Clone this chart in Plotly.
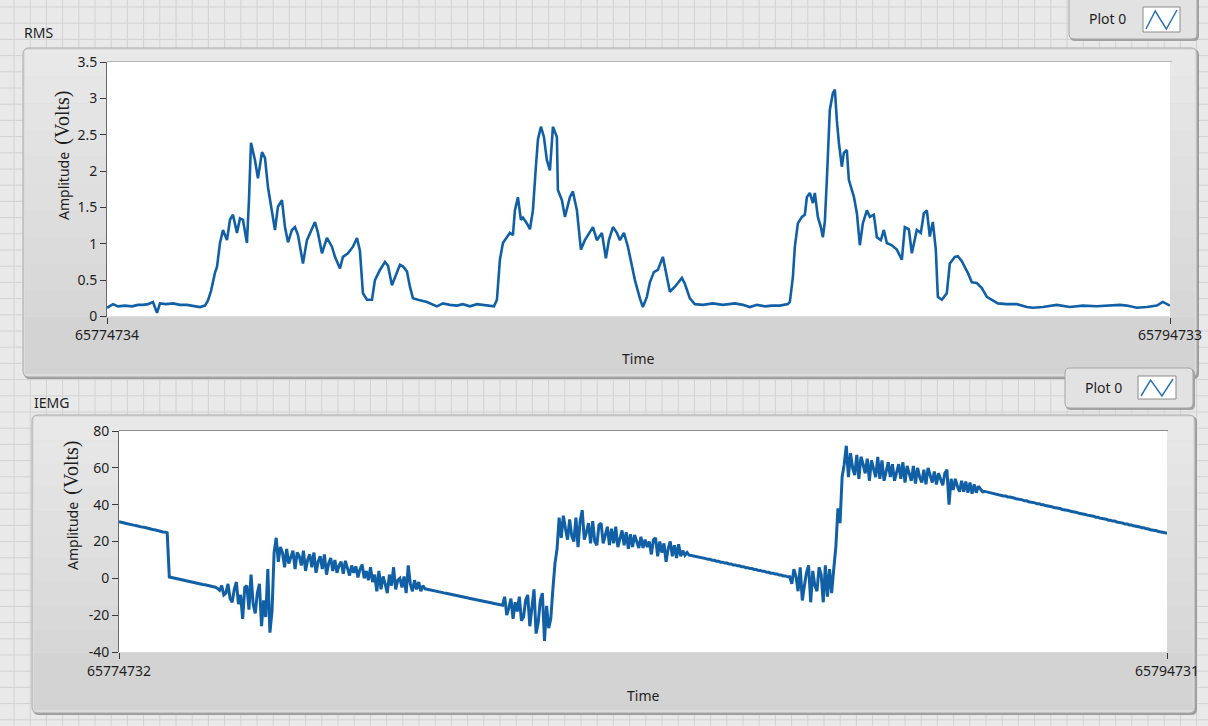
import plotly.graph_objects as go

W, H = 1208, 726

# ---------------- data ----------------
rms_start = 65774734
rms_end = 65794733
rms_offsets = [
    0, 56, 113, 207, 339, 470, 583, 677, 771, 865,
    941, 997, 1110, 1241, 1373, 1505, 1636, 1749, 1843, 1900,
    1956, 1994, 2031, 2069, 2088, 2126, 2182, 2257, 2314, 2370,
    2445, 2502, 2558, 2633, 2671, 2709, 2784, 2840, 2916, 2972,
    3028, 3104, 3160, 3216, 3292, 3348, 3405, 3480, 3536, 3593,
    3687, 3762, 3818, 3913, 3969, 4044, 4138, 4232, 4289, 4383,
    4439, 4533, 4627, 4703, 4759, 4815, 4891, 4985, 5041, 5135,
    5229, 5286, 5361, 5417, 5511, 5568, 5643, 5699, 5756, 5850,
    6019, 6207, 6320, 6452, 6584, 6696, 6828, 6960, 7073, 7204,
    7280, 7336, 7392, 7449, 7524, 7580, 7637, 7674, 7731, 7787,
    7825, 7900, 7957, 8013, 8069, 8107, 8164, 8220, 8276, 8333,
    8370, 8389, 8464, 8483, 8559, 8615, 8709, 8765, 8841, 8916,
    8991, 9048, 9142, 9217, 9311, 9386, 9443, 9518, 9593, 9650,
    9725, 9800, 9875, 9932, 10026, 10082, 10157, 10214, 10289, 10364,
    10458, 10534, 10590, 10684, 10816, 10872, 10966, 11060, 11211, 11399,
    11587, 11813, 11963, 12095, 12227, 12377, 12509, 12659, 12810, 12847,
    12904, 12941, 12998, 13073, 13129, 13167, 13223, 13280, 13317, 13374,
    13430, 13468, 13505, 13543, 13599, 13656, 13694, 13731, 13769, 13825,
    13863, 13919, 13957, 14013, 14051, 14108, 14164, 14220, 14296, 14352,
    14427, 14484, 14559, 14615, 14672, 14766, 14860, 14954, 15010, 15086,
    15142, 15236, 15311, 15368, 15424, 15480, 15537, 15593, 15631, 15706,
    15800, 15857, 15951, 16007, 16083, 16139, 16196, 16271, 16365, 16459,
    16553, 16647, 16760, 16929, 17117, 17305, 17418, 17606, 17870, 18114,
    18359, 18622, 18866, 19055, 19186, 19374, 19562, 19751, 19864, 19999,
]
rms_values = [
    0.12, 0.15, 0.17, 0.14, 0.15, 0.14, 0.16, 0.16, 0.17, 0.20,
    0.05, 0.18, 0.17, 0.18, 0.16, 0.16, 0.14, 0.13, 0.15, 0.22,
    0.35, 0.50, 0.60, 0.68, 0.82, 1.01, 1.19, 1.05, 1.33, 1.40,
    1.15, 1.35, 1.33, 1.01, 1.60, 2.39, 2.15, 1.90, 2.26, 2.18,
    1.78, 1.46, 1.19, 1.51, 1.60, 1.23, 1.02, 1.19, 1.23, 1.12,
    0.73, 1.05, 1.15, 1.30, 1.15, 0.87, 1.08, 0.96, 0.82, 0.66,
    0.82, 0.87, 0.96, 1.08, 0.90, 0.32, 0.23, 0.23, 0.50, 0.64,
    0.75, 0.70, 0.43, 0.54, 0.71, 0.69, 0.62, 0.41, 0.25, 0.23,
    0.20, 0.14, 0.18, 0.16, 0.15, 0.17, 0.14, 0.17, 0.16, 0.15,
    0.14, 0.23, 0.78, 1.01, 1.09, 1.15, 1.12, 1.46, 1.64, 1.33,
    1.36, 1.28, 1.20, 1.46, 2.06, 2.43, 2.61, 2.47, 2.15, 2.01,
    2.40, 2.61, 2.47, 1.74, 1.60, 1.37, 1.64, 1.72, 1.46, 0.92,
    1.05, 1.12, 1.23, 1.05, 1.15, 0.80, 1.05, 1.23, 1.15, 1.05,
    1.15, 0.96, 0.68, 0.50, 0.25, 0.13, 0.27, 0.47, 0.61, 0.64,
    0.82, 0.54, 0.34, 0.41, 0.53, 0.45, 0.25, 0.17, 0.16, 0.18,
    0.16, 0.18, 0.16, 0.13, 0.16, 0.14, 0.15, 0.15, 0.17, 0.20,
    0.54, 0.96, 1.28, 1.37, 1.40, 1.64, 1.70, 1.56, 1.70, 1.37,
    1.23, 1.09, 1.30, 1.88, 2.84, 3.07, 3.12, 2.70, 2.39, 2.06,
    2.25, 2.29, 1.88, 1.74, 1.65, 1.42, 0.98, 1.28, 1.46, 1.37,
    1.40, 1.09, 1.05, 1.19, 1.01, 0.98, 0.92, 0.78, 1.23, 1.20,
    0.87, 1.19, 1.15, 1.42, 1.46, 1.10, 1.30, 0.92, 0.27, 0.23,
    0.32, 0.73, 0.82, 0.83, 0.76, 0.68, 0.60, 0.47, 0.46, 0.39,
    0.27, 0.23, 0.18, 0.17, 0.17, 0.13, 0.12, 0.13, 0.16, 0.13,
    0.15, 0.14, 0.15, 0.16, 0.15, 0.12, 0.13, 0.15, 0.20, 0.15,
]

iemg_start = 65774732
iemg_end = 65794731
iemg_values = [
    # ramp before first contraction
    30.7, 30.3, 30.2, 29.9, 29.6, 29.5, 29.1, 28.9, 28.7, 28.3,
    28.2, 27.8, 27.7, 27.3, 27.1, 26.9, 26.5, 26.4, 26.0, 25.8,
    25.6, 25.2, 25.1, 24.7,
    0.7, 0.4, 0.3, -0.1, -0.2, -0.6, -0.8, -1.0, -1.3, -1.6,
    -1.7, -2.1, -2.3, -2.5, -2.8, -3.0, -3.3, -3.5, -3.7, -4.0,
    -4.3, -4.5, -4.8,
    # first burst
    -5.5, -6.5, -4, -9, -8, -3, -11, -13, -6, -2,
    -14, -9, -22, -5, -4, -17, 2, -14, -19, -8,
    -3, -26, -12, -21, 5, -29.5, -18, 14,
    22, 9, 17, 14, 6, 16, 8, 11, 15, 5,
    14, 12, 7, 15, 4, 10, 13, 6, 14, 3,
    9, 12, 5, 13, 2, 8, 11, 4, 10, 3,
    7, 9, 2.5, 9.5, 6, 1.5, 7, 3, 6.5, 0.5,
    5, 7.5, 0, 4, -1, 6, -2, 2, -7, 4,
    -6, 1, -3, -8, 2, -4, 6, -6, -1, 0,
    -5, 1, -8, 7, -3, -7, -1, -6, -2, -7,
    -4, -5.7,
    -5.9, -6.2, -6.4, -6.7, -6.9, -7.1, -7.4, -7.6, -7.9, -8.1,
    -8.3, -8.6, -8.8, -9.1, -9.3, -9.6, -9.8, -10.0, -10.3, -10.5,
    -10.8, -11.0, -11.2, -11.5, -11.7, -12.0, -12.2, -12.5, -12.7, -12.9,
    -13.2, -13.4, -13.7, -13.9, -14.1, -14.4, -14.6,
    # second burst
    -10, -20, -16, -11, -22, -13, -18, -10, -23, -21,
    -12, -9, -26, -14, -6, -30, -24, -12, -8, -34,
    -15, -27, -22, -6, 8, 16,
    33, 22, 34, 27, 21, 32, 23, 20, 33, 17,
    31, 37, 21, 25, 30, 19, 31, 20, 18, 29,
    30, 19, 24, 28, 18, 27, 19, 28, 17, 22,
    26, 18, 25, 16, 24, 17, 23.5, 20, 16.5, 22.5,
    16.5, 21, 17, 20, 13, 21, 22, 12, 20, 14,
    19, 9, 16, 20, 12, 18, 11, 18.5, 12, 15,
    12.5, 14, 12.6,
    12.4, 12.2, 11.8, 11.7, 11.3, 11.2, 10.8, 10.7, 10.3, 10.3,
    9.8, 9.8, 9.3, 9.3, 8.8, 8.8, 8.3, 8.3, 7.8, 7.8,
    7.3, 7.3, 6.8, 6.8, 6.3, 6.3, 5.8, 5.8, 5.3, 5.3,
    4.8, 4.8, 4.3, 4.3, 3.8, 3.8, 3.3, 3.3, 2.8, 2.8,
    2.3, 2.3, 1.8, 1.8, 1.3, 1.3, 0.8, 0.8,
    # third burst
    -3, 5, 1, -7, 6, -12, -4, 3, 7, -13,
    4, -4, -7, 6, 2, -13, 7, -10, 5, -8,
    5, 17, 38, 30, 55, 62, 72,
    55, 68, 60, 56, 67, 54, 66, 62, 57, 65,
    53, 64, 59, 55, 66, 54, 64, 53, 58, 63,
    55, 62, 53, 58, 62, 54, 63, 52, 61, 57,
    53, 61, 51.5, 60, 55, 52, 59, 51, 60, 56,
    52, 58, 51, 57, 54, 50.5, 57, 59, 40, 54,
    48, 54, 50, 47, 53, 47, 52.5, 46.5, 52, 46,
    51, 46.5, 50, 48.5, 47,
    47.2, 46.9, 46.8, 46.3, 46.3, 45.8, 45.7, 45.3, 45.2, 44.7,
    44.7, 44.2, 44.2, 43.7, 43.6, 43.2, 43.1, 42.6, 42.6, 42.1,
    42.1, 41.6, 41.5, 41.1, 41.0, 40.5, 40.5, 40.0, 40.0, 39.5,
    39.4, 39.0, 38.9, 38.5, 38.4, 37.9, 37.9, 37.4, 37.3, 36.9,
    36.8, 36.4, 36.3, 35.8, 35.8, 35.3, 35.2, 34.8, 34.7, 34.3,
    34.2, 33.7, 33.7, 33.2, 33.2, 32.7, 32.6, 32.2, 32.1, 31.6,
    31.6, 31.1, 31.1, 30.6, 30.5, 30.1, 30.0, 29.5, 29.5, 29.0,
    29.0, 28.5, 28.4, 28.0, 27.9, 27.4, 27.4, 26.9, 26.9, 26.4,
    26.3, 25.9, 25.8, 25.4, 25.3, 24.8, 24.8, 24.4,
]

rms_yticks = [0, 0.5, 1, 1.5, 2, 2.5, 3, 3.5]
rms_ytick_text = ["0", "0.5", "1", "1.5", "2", "2.5", "3", "3.5"]
iemg_yticks = [-40, -20, 0, 20, 40, 60, 80]
iemg_ytick_text = ["-40", "-20", "0", "20", "40", "60", "80"]
rms_xtick_text = ["65774734", "65794733"]
iemg_xtick_text = ["65774732", "65794731"]
panel_titles = ["RMS", "IEMG"]
legend_label = "Plot 0"
x_title = "Time"

# ---------------- styling ----------------
LINE = "#1160a6"
TXT = "#1f1f1f"
SANS = "Noto Sans, Open Sans, sans-serif"


def px(x):
    return x / W


def py(y):
    return 1 - y / H


def rrect_path(x0, y0, x1, y1, r):
    return (f"M {px(x0 + r)},{py(y0)} L {px(x1 - r)},{py(y0)} "
            f"Q {px(x1)},{py(y0)} {px(x1)},{py(y0 + r)} L {px(x1)},{py(y1 - r)} "
            f"Q {px(x1)},{py(y1)} {px(x1 - r)},{py(y1)} L {px(x0 + r)},{py(y1)} "
            f"Q {px(x0)},{py(y1)} {px(x0)},{py(y1 - r)} L {px(x0)},{py(y0 + r)} "
            f"Q {px(x0)},{py(y0)} {px(x0 + r)},{py(y0)} Z")


def mix(c0, c1, t):
    a = [int(c0[i:i + 2], 16) for i in (1, 3, 5)]
    b = [int(c1[i:i + 2], 16) for i in (1, 3, 5)]
    return "#" + "".join(f"{round(a[k] + (b[k] - a[k]) * t):02x}" for k in range(3))


shapes = []

# background grid of the front panel
grid = []
gx = 14.0
while gx < W:
    grid.append(f"M {px(gx)},{py(0)} L {px(gx)},{py(H)}")
    gx += 16.2
gy = 7.0
while gy < H:
    grid.append(f"M {px(0)},{py(gy)} L {px(W)},{py(gy)}")
    gy += 16.2
shapes.append(dict(type="path", xref="paper", yref="paper", path=" ".join(grid),
                   line=dict(color="#d2d2d2", width=1), layer="below"))


def add_panel(x0, y0, x1, y1, band_y):
    shapes.append(dict(type="path", xref="paper", yref="paper", layer="below",
                       path=rrect_path(x0 + 1, y0 + 1, x1 + 2, y1 + 2, 6),
                       fillcolor="#9c9c9c", line=dict(width=0)))
    shapes.append(dict(type="path", xref="paper", yref="paper", layer="below",
                       path=rrect_path(x0, y0, x1, y1, 6),
                       fillcolor="#dcdcdc", line=dict(width=0)))
    n = 10
    for k in range(n):
        ya = y0 + 2 + (band_y - y0 - 2) * k / n
        yb = y0 + 2 + (band_y - y0 - 2) * (k + 1) / n
        shapes.append(dict(type="rect", xref="paper", yref="paper", layer="below",
                           x0=px(x0 + 2), x1=px(x1 - 2), y0=py(yb), y1=py(ya),
                           fillcolor=mix("#e8e8e8", "#d7d7d7", k / (n - 1)),
                           line=dict(width=0)))
    shapes.append(dict(type="rect", xref="paper", yref="paper", layer="below",
                       x0=px(x0 + 2), x1=px(x1 - 2), y0=py(y1 - 3), y1=py(band_y),
                       fillcolor="#d3d3d3", line=dict(width=0)))
    shapes.append(dict(type="path", xref="paper", yref="paper", layer="below",
                       path=rrect_path(x0, y0, x1, y1, 6),
                       fillcolor="rgba(0,0,0,0)", line=dict(color="#a9a9a9", width=1)))


def add_legend(x0, y0, x1, y1, ix0, iy0, ix1, iy1):
    shapes.append(dict(type="path", xref="paper", yref="paper", layer="below",
                       path=rrect_path(x0 + 1, y0 + 1, x1 + 2, y1 + 2, 5),
                       fillcolor="#a3a3a3", line=dict(width=0)))
    shapes.append(dict(type="path", xref="paper", yref="paper", layer="below",
                       path=rrect_path(x0, y0, x1, y1, 5),
                       fillcolor="#e2e2e2", line=dict(color="#a4a4a4", width=1)))
    shapes.append(dict(type="rect", xref="paper", yref="paper", layer="below",
                       x0=px(ix0), x1=px(ix1), y0=py(iy1), y1=py(iy0),
                       fillcolor="#ffffff", line=dict(color="#8a8a8a", width=1)))
    w = ix1 - ix0
    pts = [(ix0 + 3, iy1 - 3), (ix0 + w * 0.33, iy0 + 4),
           (ix0 + w * 0.63, iy1 - 3), (ix1 - 3, iy0 + 3)]
    path = "M " + " L ".join(f"{px(a)},{py(b)}" for a, b in pts)
    shapes.append(dict(type="path", xref="paper", yref="paper", layer="below",
                       path=path, line=dict(color="#2a72b8", width=1.5)))


add_panel(23, 48, 1197, 377, 317)
add_panel(32, 415, 1195, 713, 653)
add_legend(1069, -6, 1197, 39, 1143, 7, 1180, 32)
add_legend(1065, 368, 1193, 408, 1138, 376, 1176, 399)

# white plot areas (in data space of each subplot)
shapes.append(dict(type="rect", xref="x", yref="y", layer="below",
                   x0=rms_start, x1=rms_end, y0=rms_yticks[0], y1=rms_yticks[-1],
                   fillcolor="#ffffff", line=dict(width=0)))
shapes.append(dict(type="rect", xref="x2", yref="y2", layer="below",
                   x0=iemg_start, x1=iemg_end, y0=iemg_yticks[0], y1=iemg_yticks[-1],
                   fillcolor="#ffffff", line=dict(width=0)))
shapes.append(dict(type="line", xref="paper", yref="paper", layer="below",
                   x0=px(107), x1=px(1172), y0=py(61.5), y1=py(61.5),
                   line=dict(color="#b5b5b5", width=1)))
shapes.append(dict(type="line", xref="paper", yref="paper", layer="below",
                   x0=px(119), x1=px(1168), y0=py(430.5), y1=py(430.5),
                   line=dict(color="#8c8c8c", width=1)))

fig = go.Figure()
fig.add_trace(go.Scatter(
    x=[rms_start + o for o in rms_offsets], y=rms_values,
    mode="lines", line=dict(color=LINE, width=2.6),
    xaxis="x", yaxis="y", hoverinfo="skip", name=legend_label))

n = len(iemg_values)
dt = (iemg_end - iemg_start) / (n - 1)
fig.add_trace(go.Scatter(
    x=[iemg_start + i * dt for i in range(n)], y=iemg_values,
    mode="lines", line=dict(color=LINE, width=3.0),
    xaxis="x2", yaxis="y2", hoverinfo="skip", name=legend_label))

tickfont = dict(family=SANS, size=14, color=TXT)
common_x = dict(showgrid=False, zeroline=False, showline=False, ticks="outside",
                ticklen=6, tickwidth=1, tickcolor="#3a3a3a", tickfont=tickfont,
                fixedrange=True, automargin=False)
common_y = dict(showgrid=False, zeroline=False, showline=True, linecolor="#6a6a6a",
                linewidth=1, ticks="outside", ticklen=6, tickwidth=1,
                tickcolor="#3a3a3a", tickfont=tickfont, fixedrange=True, automargin=False)

fig.update_layout(
    width=W, height=H, margin=dict(l=0, r=0, t=0, b=0, pad=0, autoexpand=False),
    paper_bgcolor="#e9e9e9", plot_bgcolor="rgba(0,0,0,0)",
    showlegend=False, hovermode=False,
    xaxis=dict(domain=[px(107), px(1170)], range=[rms_start, rms_end], anchor="y",
               tickvals=[rms_start, rms_end], ticktext=rms_xtick_text, **common_x),
    yaxis=dict(domain=[py(316.5), py(62)], range=[rms_yticks[0], rms_yticks[-1]],
               anchor="x", tickvals=rms_yticks, ticktext=rms_ytick_text, **common_y),
    xaxis2=dict(domain=[px(119), px(1167)], range=[iemg_start, iemg_end], anchor="y2",
                tickvals=[iemg_start, iemg_end], ticktext=iemg_xtick_text, **common_x),
    yaxis2=dict(domain=[py(652), py(431)], range=[iemg_yticks[0], iemg_yticks[-1]],
                anchor="x2", tickvals=iemg_yticks, ticktext=iemg_ytick_text, **common_y),
    shapes=shapes,
)

ytitle = ('Amplitude  <span style="font-family:Liberation Serif, DejaVu Serif, serif;'
          'font-size:20px">(Volts)</span>')
annots = [
    dict(x=px(22), y=py(33), text=panel_titles[0], xanchor="left", yanchor="middle"),
    dict(x=px(32), y=py(402), text=panel_titles[1], xanchor="left", yanchor="middle"),
    dict(x=px(1107), y=py(18), text=legend_label, xanchor="center", yanchor="middle"),
    dict(x=px(1103), y=py(387), text=legend_label, xanchor="center", yanchor="middle"),
    dict(x=px(638), y=py(359), text=x_title, xanchor="center", yanchor="middle"),
    dict(x=px(643), y=py(695), text=x_title, xanchor="center", yanchor="middle"),
    dict(x=px(63), y=py(156), text=ytitle, textangle=-90, xanchor="center", yanchor="middle"),
    dict(x=px(71), y=py(506), text=ytitle, textangle=-90, xanchor="center", yanchor="middle"),
]
for a in annots:
    a.update(xref="paper", yref="paper", showarrow=False,
             font=dict(family=SANS, size=14, color=TXT))
fig.update_layout(annotations=annots)

fig.write_html("out.html", config={"displayModeBar": False},
               post_script="document.body.style.margin='0';document.body.style.overflow='hidden';")
